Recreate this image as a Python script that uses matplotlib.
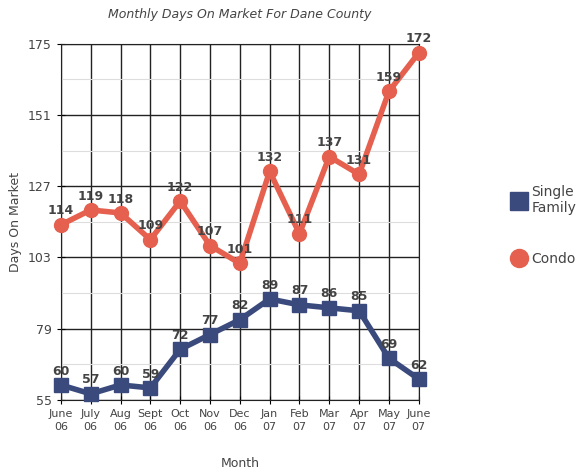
import matplotlib
matplotlib.use("Agg")
import matplotlib.pyplot as plt
from matplotlib.ticker import FixedLocator

months = ["June\n06", "July\n06", "Aug\n06", "Sept\n06", "Oct\n06", "Nov\n06", "Dec\n06",
          "Jan\n07", "Feb\n07", "Mar\n07", "Apr\n07", "May\n07", "June\n07"]
single_family = [60, 57, 60, 59, 72, 77, 82, 89, 87, 86, 85, 69, 62]
condo = [114, 119, 118, 109, 122, 107, 101, 132, 111, 137, 131, 159, 172]
y_ticks = [55, 79, 103, 127, 151, 175]
y_minor = [67, 91, 115, 139, 163]

SF_COL = "#3b4a7c"
CO_COL = "#e5604e"
TXT = "#444444"

plt.rcParams["font.family"] = ["DejaVu Sans"]

fig = plt.figure(figsize=(5.8, 4.72), dpi=100)
ax = fig.add_axes([0.105, 0.153, 0.617, 0.754])

x = list(range(len(months)))
ax.plot(x, single_family, "-s", color=SF_COL, lw=4, ms=10, clip_on=False, zorder=3,
        label="Single\nFamily")
ax.plot(x, condo, "-o", color=CO_COL, lw=4, ms=10, clip_on=False, zorder=3,
        label="Condo")

for xi, v in zip(x, single_family):
    ax.text(xi, v + 2.5, str(v), ha="center", va="bottom", fontsize=9,
            fontweight="bold", color=TXT, zorder=4)
for xi, v in zip(x, condo):
    ax.text(xi, v + 2.5, str(v), ha="center", va="bottom", fontsize=9,
            fontweight="bold", color=TXT, zorder=4)

ax.set_xlim(0, 12)
ax.set_ylim(55, 175)
ax.set_yticks(y_ticks)
ax.yaxis.set_minor_locator(FixedLocator(y_minor))
ax.set_xticks(x)
ax.set_xticklabels(months, fontsize=8, color=TXT, linespacing=1.4)
ax.tick_params(axis="y", labelsize=9, labelcolor=TXT, length=6, direction="inout")
ax.tick_params(axis="x", length=6, direction="inout")
ax.tick_params(which="minor", length=0)
ax.grid(True, which="major", color="#222222", lw=1.0)
ax.grid(True, which="minor", axis="y", color="#dddddd", lw=0.8)
ax.set_axisbelow(True)
for s in ax.spines.values():
    s.set_color("#222222")

ax.set_title("Monthly Days On Market For Dane County", fontsize=9, color=TXT,
             style="italic", pad=19)
ax.set_ylabel("Days On Market", fontsize=9, color=TXT)
ax.set_xlabel("Month", fontsize=9, color=TXT, labelpad=18)

leg = ax.legend(loc="center left", bbox_to_anchor=(1.23, 0.49), frameon=False,
                fontsize=10, labelcolor=TXT, handlelength=0.8, labelspacing=2.6,
                markerscale=1.3, handletextpad=0.5)
for h in leg.get_lines():
    h.set_linestyle("none")

fig.savefig("out.png", dpi=100)
